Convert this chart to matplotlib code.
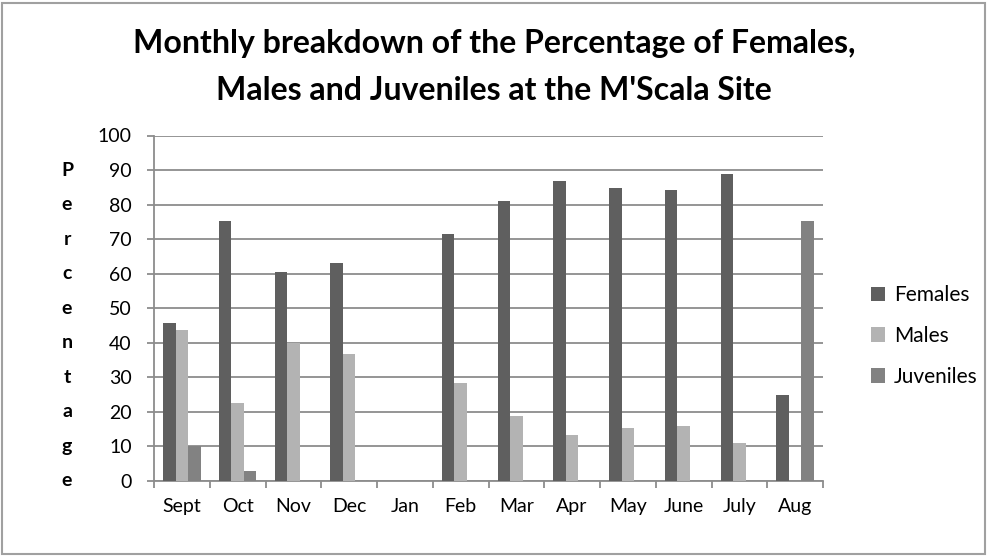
import numpy as np
import matplotlib.pyplot as plt
from matplotlib.patches import Rectangle

months = ['Sept', 'Oct', 'Nov', 'Dec', 'Jan', 'Feb', 'Mar', 'Apr', 'May', 'June', 'July', 'Aug']
females = [45.7, 75.3, 60.5, 63.2, 0, 71.6, 81.0, 86.9, 84.7, 84.1, 89.0, 24.8]
males = [43.8, 22.7, 39.8, 36.9, 0, 28.5, 18.9, 13.2, 15.3, 15.9, 11.1, 0]
juveniles = [10.0, 2.8, 0, 0, 0, 0, 0, 0, 0, 0, 0, 75.3]
ylabel_text = 'Percentage'

plt.rcParams['font.family'] = ['Lato', 'DejaVu Sans']

fig = plt.figure(figsize=(9.88, 5.56), dpi=100)
ax = fig.add_axes([154 / 988, 1 - 481 / 556, 669 / 988, 345.5 / 556])

x = np.arange(len(months))
w = 0.225
grid_c = '#8c8c8c'
ax.bar(x - w, females, w, color='#5f5f5f', label='Females', zorder=3)
ax.bar(x, males, w, color='#b3b3b3', label='Males', zorder=3)
ax.bar(x + w, juveniles, w, color='#828282', label='Juveniles', zorder=3)

ax.set_xlim(-0.5, len(months) - 0.5)
ax.set_ylim(0, 100)
ax.set_yticks(range(0, 101, 10))
ax.yaxis.grid(True, color=grid_c, linewidth=1.3, zorder=0)
ax.set_xticks(x)
ax.set_xticklabels(months, fontsize=14)
ax.set_xticks(np.arange(-0.5, len(months), 1), minor=True)
ax.tick_params(axis='x', which='major', length=0, pad=12)
ax.tick_params(axis='x', which='minor', length=5, color=grid_c, width=1.3)
ax.tick_params(axis='y', labelsize=14, length=5, color=grid_c, width=1.3, pad=11)

for s in ['top', 'right']:
    ax.spines[s].set_visible(False)
for s in ['left', 'bottom']:
    ax.spines[s].set_color(grid_c)
    ax.spines[s].set_linewidth(1.3)

# stacked vertical label, one letter per gridline
for i, ch in enumerate(ylabel_text):
    ax.text(-2.06, 90 - i * 10, ch, ha='center', va='center', fontsize=14,
            fontweight='bold', clip_on=False)

fig.text(0.5, 1 - 44 / 556, "Monthly breakdown of the Percentage of Females,",
         ha='center', va='center', fontsize=23, fontweight='bold')
fig.text(0.5, 1 - 91 / 556, "Males and Juveniles at the M'Scala Site",
         ha='center', va='center', fontsize=23, fontweight='bold')

fig.legend(loc='center left', bbox_to_anchor=(852 / 988, 1 - 336 / 556), frameon=False,
           fontsize=15, handlelength=0.7, handleheight=0.7, labelspacing=1.0,
           handletextpad=0.4)

fig.patches.append(Rectangle((2 / 988, 2 / 556), 983 / 988, 551 / 556, transform=fig.transFigure,
                             fill=False, edgecolor='#a0a0a0', linewidth=1.5))

fig.savefig('out.png', dpi=100)
